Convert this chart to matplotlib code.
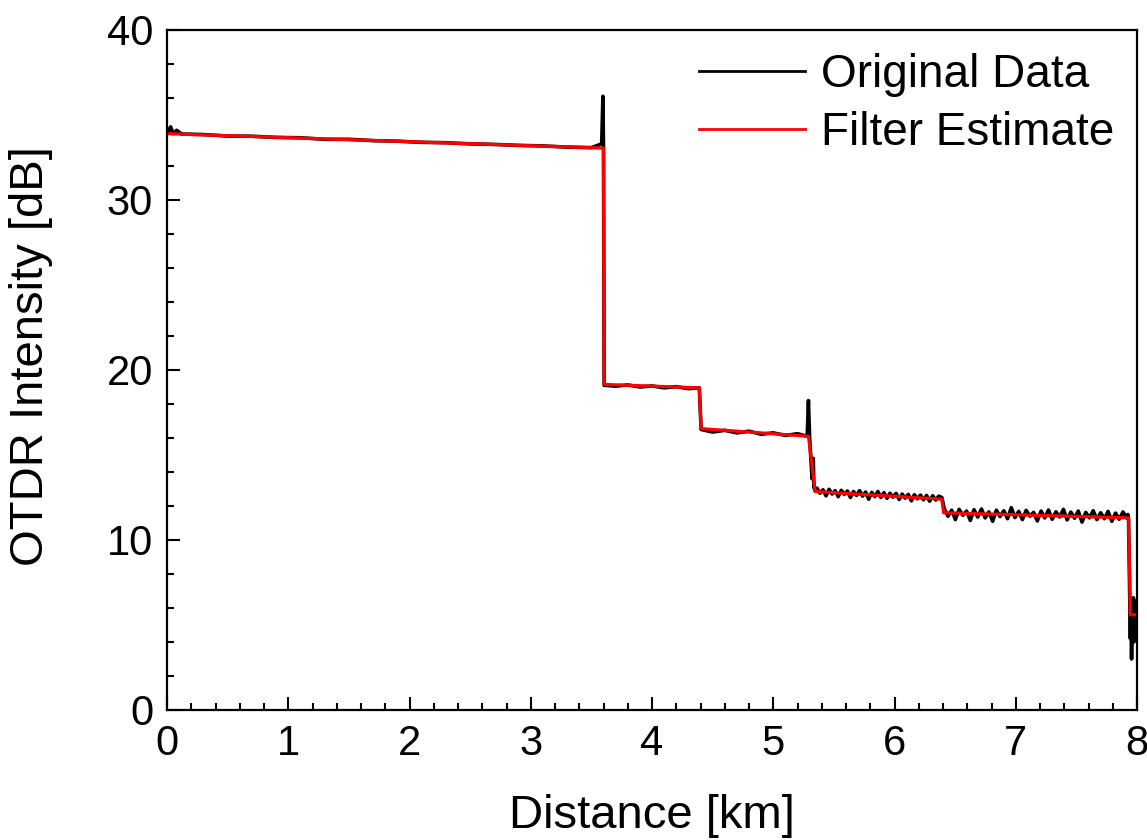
#!/usr/bin/env python3

import numpy as np
import matplotlib
matplotlib.use('Agg')
import matplotlib.pyplot as plt

plt.rcParams['font.family'] = ['Liberation Sans', 'DejaVu Sans']

# filter estimate: breakpoints of the step-like trace [km, dB]
filt_x = [0.0, 3.60, 3.605, 4.39, 4.405, 5.29, 5.34, 5.345, 6.39, 6.405, 7.93, 7.945, 8.0]
filt_y = [33.9, 33.05, 19.15, 18.95, 16.55, 16.1, 13.2, 12.85, 12.4, 11.6, 11.3, 5.6, 5.6]

seg_a_x = [0.0, 0.03, 0.05, 0.08, 0.12, 0.3, 0.5, 0.7, 0.9, 1.1, 1.3, 1.5, 1.7, 1.9, 2.1,
           2.3, 2.5, 2.7, 2.9, 3.1, 3.3, 3.5, 3.585, 3.595, 3.60]
seg_a_y = [33.95, 34.3, 33.9, 34.1, 33.88, 33.85, 33.76, 33.75, 33.68, 33.66, 33.57, 33.57,
           33.49, 33.46, 33.39, 33.37, 33.30, 33.27, 33.21, 33.18, 33.11, 33.08, 33.3, 36.1, 33.0]

seg_b_x = [3.605, 3.7, 3.8, 3.9, 4.0, 4.1, 4.2, 4.3, 4.39, 4.405, 4.5, 4.6, 4.7, 4.8,
           4.9, 5.0, 5.1, 5.2, 5.28, 5.29, 5.30, 5.32, 5.33, 5.335, 5.345]
seg_b_y = [19.1, 19.05, 19.12, 19.0, 19.06, 18.95, 19.02, 18.9, 18.95, 16.5, 16.35, 16.45,
           16.3, 16.4, 16.22, 16.3, 16.15, 16.25, 16.1, 18.2, 16.0, 13.6, 14.8, 13.1, 12.9]

seg_c_x = np.linspace(5.36, 6.39, 42)
seg_c_y = [13.05, 12.75, 12.95, 12.60, 12.98, 12.70, 12.90, 12.55, 12.92, 12.68,
           12.88, 12.50, 12.85, 12.62, 12.90, 12.58, 12.82, 12.40, 12.80, 12.55,
           12.85, 12.50, 12.78, 12.45, 12.75, 12.52, 12.74, 12.38, 12.70, 12.46,
           12.68, 12.30, 12.66, 12.42, 12.64, 12.36, 12.62, 12.28, 12.60, 12.35,
           12.58, 12.50]

seg_d_x = np.linspace(6.41, 7.915, 50)
seg_d_y = [11.85, 11.40, 11.75, 11.20, 11.80, 11.45, 11.70, 11.15, 11.78, 11.35,
           11.82, 11.30, 11.65, 11.10, 11.75, 11.38, 11.72, 11.25, 11.90, 11.32,
           11.68, 11.20, 11.74, 11.40, 11.62, 11.12, 11.70, 11.30, 11.76, 11.22,
           11.66, 11.35, 11.80, 11.18, 11.64, 11.28, 11.70, 11.05, 11.62, 11.30,
           11.72, 11.20, 11.60, 11.25, 11.68, 11.10, 11.58, 11.22, 11.65, 11.30]

seg_e_x = [7.925, 7.93, 7.94, 7.945, 7.95, 7.955, 7.96, 7.965, 7.97, 7.975, 7.98, 7.985,
           7.99, 7.995, 8.0]
seg_e_y = [11.5, 11.2, 6.8, 4.2, 6.5, 3.0, 6.2, 4.5, 6.6, 4.0, 6.0, 5.0, 6.4, 4.6, 5.8]

orig_x = np.concatenate([seg_a_x, seg_b_x, seg_c_x, seg_d_x, seg_e_x])
orig_y = np.concatenate([seg_a_y, seg_b_y, seg_c_y, seg_d_y, seg_e_y])

fig = plt.figure(figsize=(11.47, 8.4), dpi=100)
ax = fig.add_axes([0.1456, 0.1548, 0.9913 - 0.1456, 0.9643 - 0.1548])

ax.plot(orig_x, orig_y, color='black', lw=2.6, label='Original Data')
ax.plot(filt_x, filt_y, color='#ff0000', lw=2.3, label='Filter Estimate')

ax.set_xlim(0, 8)
ax.set_ylim(0, 40)
ax.set_xticks(range(0, 9))
ax.set_yticks(range(0, 41, 10))
ax.set_xticks(np.arange(0, 8.01, 0.2), minor=True)
ax.set_yticks(range(0, 41, 2), minor=True)
ax.tick_params(which='both', direction='in', top=False, right=False, width=1.5, labelsize=30)
ax.tick_params(which='major', length=9.5, pad=10)
ax.tick_params(which='minor', length=5)
for s in ax.spines.values():
    s.set_linewidth(1.6)

ax.set_xlabel('Distance [km]', fontsize=34, labelpad=22)
ax.set_ylabel('OTDR Intensity [dB]', fontsize=34)
ax.yaxis.set_label_coords(-0.118, 0.52)

leg = ax.legend(loc='upper right', frameon=False, fontsize=33, handlelength=2.3,
                labelspacing=0.3, handletextpad=0.35, borderaxespad=0.1)
for h in leg.get_lines():
    h.set_linewidth(2.0)

fig.savefig('out.png', dpi=100)
